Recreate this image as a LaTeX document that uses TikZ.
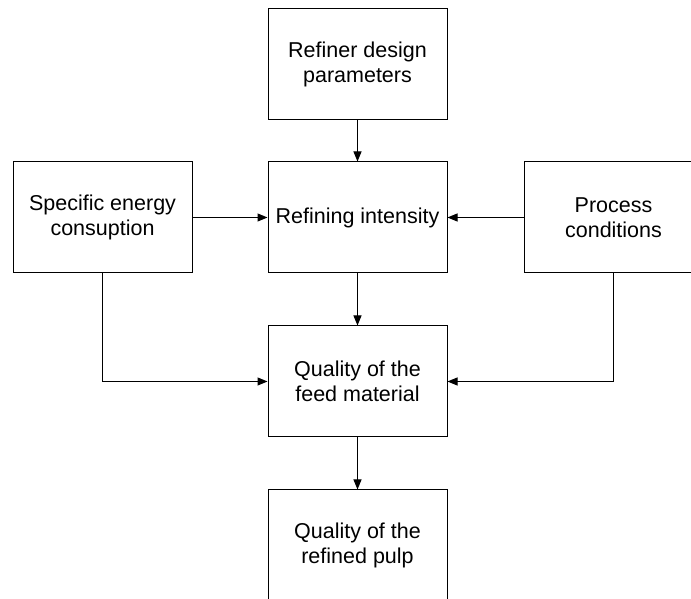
\documentclass[tikz,border=0pt]{standalone}
\usepackage{fontspec}
\setmainfont{Liberation Sans}
\usetikzlibrary{arrows.meta}
\usetikzlibrary{positioning}

\begin{document}
\begin{tikzpicture}[x=0.5pt, y=0.5pt, % 1 Einheit = 1 Pixel
  kasten/.style={draw, line width=0.5pt, minimum width=89.5pt, minimum height=55.5pt,
    align=center, inner sep=0pt, font=\fontsize{10.75}{12.5}\selectfont},
  pfeil/.style={line width=0.5pt, -{Triangle[length=5pt, width=4pt]}}]

% Rahmen
\clip (0,0) rectangle (691,599);
\useasboundingbox (0,0) rectangle (691,599);

% Kästen
\node[kasten] (design) at (357.5,535) {Refiner design\\parameters};
\node[kasten] (intens) at (357.5,381.5) {Refining intensity};
\node[kasten] (energie) at (102.5,381.5) {Specific energy\\consuption};
\node[kasten] (prozess) at (613.5,381.5) {Process\\conditions};
\node[kasten] (feed) at (357.5,217.5) {Quality of the\\feed material};
\node[kasten] (pulp) at (357.5,53.5) {Quality of the\\refined pulp};

% Pfeile
\draw[pfeil] (design) -- (intens);
\draw[pfeil] (energie) -- (intens);
\draw[pfeil] (prozess) -- (intens);
\draw[pfeil] (intens) -- (feed);
\draw[pfeil] (energie.south) |- (feed.west);
\draw[pfeil] (prozess.south) |- (feed.east);
\draw[pfeil] (feed) -- (pulp);

\end{tikzpicture}
\end{document}
